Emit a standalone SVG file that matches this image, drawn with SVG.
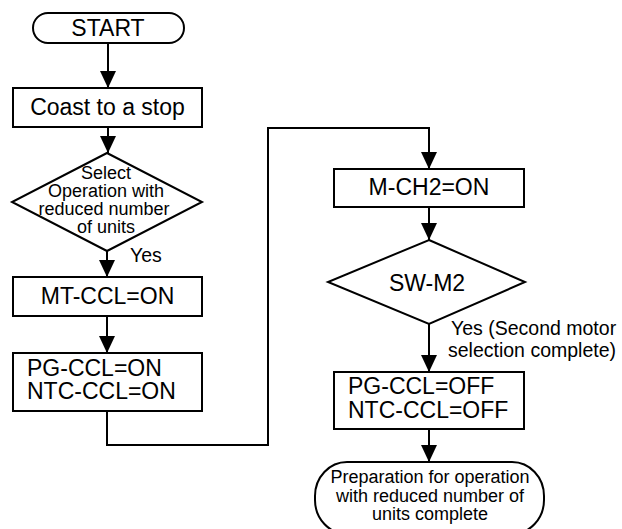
<svg xmlns="http://www.w3.org/2000/svg" width="622" height="529" viewBox="0 0 622 529">
<style>
.s{fill:#fff;stroke:#000;stroke-width:2}
.c{fill:none;stroke:#000;stroke-width:2}
text{font-family:"Liberation Sans",Arial,sans-serif;fill:#000}
.b{font-size:23px}
.m{font-size:18px}
.y{font-size:19.5px}
.mid{text-anchor:middle}
</style>
<defs>
<marker id="ah" markerUnits="userSpaceOnUse" markerWidth="17" markerHeight="16" refX="17" refY="8" orient="auto" viewBox="0 0 17 16">
<path d="M0,0 L17,8 L0,16 z" fill="#000"/>
</marker>
</defs>
<rect width="622" height="529" fill="#fff"/>
<g id="connectors">
<path class="c" d="M108,43 V88" marker-end="url(#ah)"/>
<path class="c" d="M108,127 V153" marker-end="url(#ah)"/>
<path class="c" d="M107,251 V277" marker-end="url(#ah)"/>
<path class="c" d="M107,316 V353" marker-end="url(#ah)"/>
<path class="c" d="M107,411 V445 H268 V128 H429 V169" marker-end="url(#ah)"/>
<path class="c" d="M429,207 V240" marker-end="url(#ah)"/>
<path class="c" d="M429,324 V372" marker-end="url(#ah)"/>
<path class="c" d="M429,429 V462" marker-end="url(#ah)"/>
<text class="y" x="130" y="262">Yes</text>
<text class="y" x="451" y="335"><tspan x="451" y="335">Yes (Second motor</tspan><tspan x="448" y="357">selection complete)</tspan></text>
</g>
<g id="start">
<rect class="s" x="33" y="13" width="151" height="30" rx="15" ry="15"/>
<text class="b mid" x="108" y="36">START</text>
</g>
<g id="coast">
<rect class="s" x="13" y="88" width="189" height="39"/>
<text class="b mid" x="107.5" y="115">Coast to a stop</text>
</g>
<g id="select">
<polygon class="s" points="107,153 202,202 107,251 12,202"/>
<text class="m mid" x="106" y="179"><tspan x="106" y="179">Select</tspan><tspan x="106" y="197">Operation with</tspan><tspan x="104" y="215">reduced number</tspan><tspan x="106" y="233">of units</tspan></text>
</g>
<g id="mtccl">
<rect class="s" x="13" y="277" width="189" height="39"/>
<text class="b mid" x="107.5" y="304">MT-CCL=ON</text>
</g>
<g id="pgccl-on">
<rect class="s" x="13" y="353" width="189" height="58"/>
<text class="b" x="27" y="376"><tspan x="27" y="376">PG-CCL=ON</tspan><tspan x="27" y="399">NTC-CCL=ON</tspan></text>
</g>
<g id="mch2">
<rect class="s" x="334" y="169" width="190" height="38"/>
<text class="b mid" x="429" y="195">M-CH2=ON</text>
</g>
<g id="swm2">
<polygon class="s" points="429,240 525,282 429,324 328,282"/>
<text class="b mid" x="427" y="291">SW-M2</text>
</g>
<g id="pgccl-off">
<rect class="s" x="334" y="372" width="190" height="57"/>
<text class="b" x="348" y="394"><tspan x="348" y="394">PG-CCL=OFF</tspan><tspan x="348" y="418">NTC-CCL=OFF</tspan></text>
</g>
<g id="end">
<rect class="s" x="315" y="462" width="229" height="72" rx="32" ry="34"/>
<text class="m mid" x="430" y="483"><tspan x="430" y="483">Preparation for operation</tspan><tspan x="430" y="502">with reduced number of</tspan><tspan x="430" y="520">units complete</tspan></text>
</g>
</svg>
